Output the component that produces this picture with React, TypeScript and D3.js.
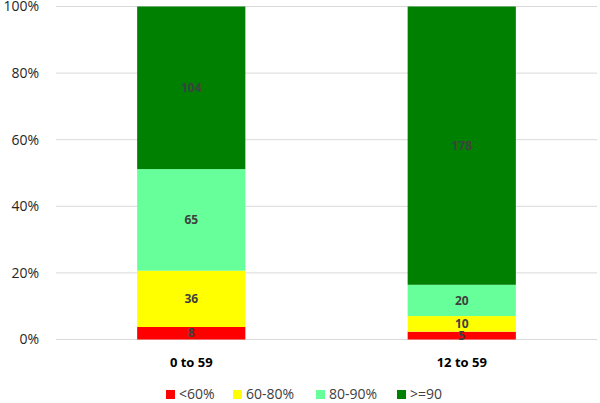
import React from "react";
import * as d3 from "d3";

const categories = ["0 to 59", "12 to 59"];
const seriesNames = ["<60%", "60-80%", "80-90%", ">=90"];
const seriesColors = ["#FF0000", "#FFFF00", "#66FF99", "#008000"];
const values = [
  [8, 36, 65, 104],
  [5, 10, 20, 178],
];
const yTicks = [0, 0.2, 0.4, 0.6, 0.8, 1];

const W = 600;
const H = 403;
const FONT = "'Open Sans', 'DejaVu Sans', sans-serif";

export default function App() {
  const x = d3
    .scaleBand<string>()
    .domain(categories)
    .range([56, 597])
    .paddingInner(0.6)
    .paddingOuter(0.3);
  const y = d3.scaleLinear().domain([0, 1]).range([339.5, 6.5]);

  const rows = categories.map((c, i) => {
    const o: any = { cat: c };
    seriesNames.forEach((s, j) => (o[s] = values[i][j]));
    return o;
  });
  const stack = d3.stack<any>().keys(seriesNames).offset(d3.stackOffsetExpand);
  const stacked = stack(rows);

  const legendX = [166, 233, 316, 397];

  return (
    <svg
      width={W}
      height={H}
      style={{ position: "absolute", left: 0, top: 0, background: "#fff" }}
      fontFamily={FONT}
    >
      {yTicks.map((t) => (
        <g key={t}>
          <line x1={56} x2={597} y1={y(t)} y2={y(t)} stroke="#D9D9D9" strokeWidth={1} />
          <text x={39} y={y(t)} dy="0.35em" textAnchor="end" fontSize={14} fill="#262626">
            {d3.format(".0%")(t)}
          </text>
        </g>
      ))}
      {stacked.map((layer, j) => (
        <g key={layer.key} fill={seriesColors[j]}>
          {layer.map((d, i) => (
            <rect
              key={i}
              x={x(categories[i])}
              width={x.bandwidth()}
              y={y(d[1])}
              height={y(d[0]) - y(d[1])}
            />
          ))}
        </g>
      ))}
      {stacked.map((layer, j) => (
        <g key={"l" + layer.key}>
          {layer.map((d, i) => (
            <text
              key={i}
              x={(x(categories[i]) as number) + x.bandwidth() / 2}
              y={(y(d[0]) + y(d[1])) / 2}
              dy="0.35em"
              textAnchor="middle"
              fontSize={12}
              fontWeight="bold"
              fill="#404040"
            >
              {values[i][j]}
            </text>
          ))}
        </g>
      ))}
      {categories.map((c) => (
        <text
          key={c}
          x={(x(c) as number) + x.bandwidth() / 2}
          y={362}
          dy="0.35em"
          textAnchor="middle"
          fontSize={13}
          fontWeight="bold"
          fill="#000"
        >
          {c}
        </text>
      ))}
      {seriesNames.map((s, j) => (
        <g key={s}>
          <rect x={legendX[j]} y={390} width={9} height={9} fill={seriesColors[j]} />
          <text x={legendX[j] + 13} y={394.5} dy="0.35em" fontSize={14} fill="#404040">
            {s}
          </text>
        </g>
      ))}
    </svg>
  );
}
